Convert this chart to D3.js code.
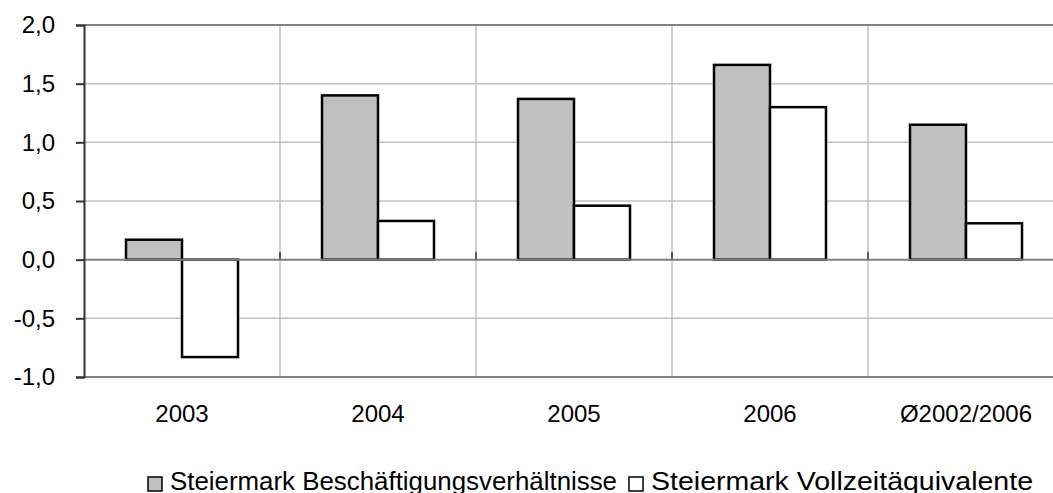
<!DOCTYPE html>
<html lang="de">
<head>
<meta charset="UTF-8">
<title>Steiermark Beschäftigung</title>
<script src="https://d3js.org/d3.v7.min.js"></script>
<style>
  html, body { margin: 0; padding: 0; background: #fff; }
  svg text { font-family: "Liberation Sans", Arial, sans-serif; fill: #000; }
</style>
</head>
<body>
<div id="chart"></div>
<script>
// data
const categories = ['2003', '2004', '2005', '2006', 'Ø2002/2006'];
const seriesNames = ['Steiermark Beschäftigungsverhältnisse', 'Steiermark Vollzeitäquivalente'];
const beschaeftigung = [0.17, 1.40, 1.37, 1.66, 1.15];
const vollzeit = [-0.83, 0.33, 0.46, 1.30, 0.31];
const yTicks = [-1.0, -0.5, 0.0, 0.5, 1.0, 1.5, 2.0];
const fills = ['#c0c0c0', '#ffffff'];

const W = 1053, H = 493;
const margin = { top: 25, right: -11, bottom: 116, left: 84 };
const width = W - margin.left - margin.right;
const height = H - margin.top - margin.bottom;

const svg = d3.select('#chart').append('svg')
    .attr('width', W).attr('height', H);
const g = svg.append('g').attr('transform', `translate(${margin.left},${margin.top})`);

const x = d3.scaleBand().domain(categories).range([0, width]);
const y = d3.scaleLinear().domain([-1, 2]).range([height, 0]);
// bar width with 150% gap
const barW = x.bandwidth() / 3.5;
const x1 = d3.scaleBand().domain([0, 1]).range([barW * 0.75, barW * 2.75]);

// horizontal gridlines
g.selectAll('.hgrid').data(yTicks.filter(t => t !== 0 && t !== 2 && t !== -1))
  .enter().append('line')
  .attr('x1', 0).attr('x2', width)
  .attr('y1', d => y(d)).attr('y2', d => y(d))
  .attr('stroke', '#c0c0c0').attr('stroke-width', 1.5);

// vertical gridlines between categories
g.selectAll('.vgrid').data(categories.slice(1))
  .enter().append('line')
  .attr('x1', d => x(d)).attr('x2', d => x(d))
  .attr('y1', 0).attr('y2', height)
  .attr('stroke', '#c0c0c0').attr('stroke-width', 1.5);

// top and bottom border
[2, -1].forEach(v => {
  g.append('line').attr('x1', 0).attr('x2', width)
    .attr('y1', y(v)).attr('y2', y(v))
    .attr('stroke', '#808080').attr('stroke-width', 2);
});

// bars
const data = [beschaeftigung, vollzeit];
data.forEach((vals, s) => {
  g.selectAll('.bar' + s).data(vals).enter().append('rect')
    .attr('x', (d, i) => x(categories[i]) + x1(s))
    .attr('width', x1.bandwidth())
    .attr('y', d => y(Math.max(0, d)))
    .attr('height', d => Math.abs(y(d) - y(0)))
    .attr('fill', fills[s])
    .attr('stroke', '#000').attr('stroke-width', 2.5);
});

// zero line with category ticks
g.append('line').attr('x1', 0).attr('x2', width)
  .attr('y1', y(0)).attr('y2', y(0))
  .attr('stroke', '#808080').attr('stroke-width', 2);
g.selectAll('.ctick').data(categories.slice(1))
  .enter().append('line')
  .attr('x1', d => x(d)).attr('x2', d => x(d))
  .attr('y1', y(0) - 8).attr('y2', y(0))
  .attr('stroke', '#606060').attr('stroke-width', 2);

// y axis
const yAxis = g.append('g')
  .call(d3.axisLeft(y).tickValues(yTicks).tickSize(8).tickPadding(21)
    .tickFormat(d => d3.format('.1f')(d).replace('.', ',').replace('−', '-')));
yAxis.select('.domain').attr('stroke', '#333').attr('stroke-width', 2);
yAxis.selectAll('.tick line').attr('stroke', '#333').attr('stroke-width', 2);
yAxis.selectAll('.tick text').attr('font-size', 24)
  .style('font-family', '"Liberation Sans", Arial, sans-serif');

// x labels
g.selectAll('.xlab').data(categories).enter().append('text')
  .attr('x', d => x(d) + x.bandwidth() / 2)
  .attr('y', 397)
  .attr('text-anchor', 'middle')
  .attr('font-size', 24)
  .text(d => d);

// legend (text widths stretched like the original)
const legendWidths = [447, 382];
const legend = svg.append('g').attr('transform', 'translate(148,490)');
let lx = 0;
seriesNames.forEach((name, i) => {
  const item = legend.append('g').attr('transform', `translate(${lx},0)`);
  item.append('rect').attr('x', 0).attr('y', -13).attr('width', 14).attr('height', 14)
    .attr('fill', fills[i]).attr('stroke', '#000').attr('stroke-width', 1.5);
  item.append('text').attr('x', 22).attr('y', 0).attr('font-size', 25)
    .attr('textLength', legendWidths[i]).attr('lengthAdjust', 'spacingAndGlyphs')
    .text(name);
  lx += 22 + legendWidths[i] + 12;
});
</script>
</body>
</html>
